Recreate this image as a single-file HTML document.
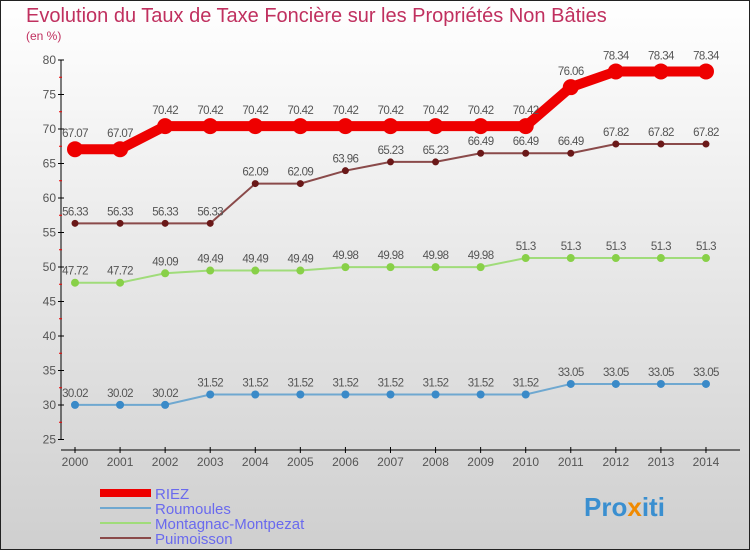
<!DOCTYPE html>
<html><head><meta charset="utf-8"><style>
body{margin:0}
svg{display:block;font-family:"Liberation Sans",sans-serif}
</style></head><body>
<svg width="750" height="550">
<defs><linearGradient id="bg" x1="0" y1="0" x2="0" y2="1"><stop offset="0" stop-color="#ffffff"/><stop offset="1" stop-color="#cfcfcf"/></linearGradient></defs>
<rect x="0.5" y="0.5" width="749" height="549" fill="url(#bg)" stroke="#222"/>
<text x="26" y="22" font-size="20" fill="#c0305f">Evolution du Taux de Taxe Foncière sur les Propriétés Non Bâties</text>
<text x="26" y="40" font-size="12" fill="#c0305f">(en %)</text>
<g id="axes"></g>
<g id="series"></g>
<g id="legend"></g>
<text x="584" y="516" font-size="26" font-weight="bold" fill="#3a8fd0">Pro<tspan fill="#f08a00">x</tspan>iti</text>
</svg>
<script>
const years=[2000,2001,2002,2003,2004,2005,2006,2007,2008,2009,2010,2011,2012,2013,2014];
const riez=[67.07,67.07,70.42,70.42,70.42,70.42,70.42,70.42,70.42,70.42,70.42,76.06,78.34,78.34,78.34];
const roumoules=[30.02,30.02,30.02,31.52,31.52,31.52,31.52,31.52,31.52,31.52,31.52,33.05,33.05,33.05,33.05];
const montagnac=[47.72,47.72,49.09,49.49,49.49,49.49,49.98,49.98,49.98,49.98,51.3,51.3,51.3,51.3,51.3];
const puimoisson=[56.33,56.33,56.33,56.33,62.09,62.09,63.96,65.23,65.23,66.49,66.49,66.49,67.82,67.82,67.82];
const yTicks=[25,30,35,40,45,50,55,60,65,70,75,80];
const NS="http://www.w3.org/2000/svg";
const x=i=>75+i*45.07;
const y=v=>405-(v-30)*6.9;
function mk(tag,attrs,parent){const e=document.createElementNS(NS,tag);for(const k in attrs)e.setAttribute(k,attrs[k]);parent.appendChild(e);return e;}
const ax=document.getElementById('axes');
let l=mk('line',{x1:61,y1:y(80),x2:61,y2:y(25),stroke:'#000'},ax);


l=mk('line',{x1:61,y1:450,x2:740,y2:450,stroke:'#000'},ax);


yTicks.forEach(v=>{
 mk('line',{x1:58,y1:y(v),x2:64,y2:y(v),stroke:'#000'},ax);
 if(v<80)mk('line',{x1:59,y1:y(v+2.5),x2:62,y2:y(v+2.5),stroke:'#e00'},ax);
 const t=mk('text',{x:56,y:y(v)+4,'text-anchor':'end','font-size':12,fill:'#555'},ax);t.textContent=v;
 
 
});
years.forEach((yr,i)=>{
 mk('line',{x1:x(i),y1:447,x2:x(i),y2:453,stroke:'#000'},ax);
 const t=mk('text',{x:x(i),y:466,'text-anchor':'middle','font-size':12,fill:'#555'},ax);t.textContent=yr;
 
 
});
const sg=document.getElementById('series');
const defs=[
 {d:roumoules,c:'#6fa8d0',m:'#3a8ac8',w:2,r:4,n:'roumoules'},
 {d:montagnac,c:'#a0dc7a',m:'#88d048',w:2,r:4,n:'montagnac'},
 {d:puimoisson,c:'#8a4a4a',m:'#6a1818',w:2,r:3.5,n:'puimoisson'},
 {d:riez,c:'#ee0000',m:'#ee0000',w:10,r:8,n:'riez'}
];
defs.forEach(s=>{
 const p=mk('polyline',{points:s.d.map((v,i)=>x(i)+','+y(v)).join(' '),fill:'none',stroke:s.c,'stroke-width':s.w},sg);
 
 
 s.d.forEach((v,i)=>{
  const c=mk('circle',{cx:x(i),cy:y(v),r:s.r,fill:s.m},sg);
  
  
  const t=mk('text',{x:x(i),y:y(v)-(s.n==='riez'?12:8),'text-anchor':'middle','font-size':11.5,fill:'#555','letter-spacing':'-0.6'},sg);
  t.textContent=v;
  
  
 });
});
const lg=document.getElementById('legend');
[['RIEZ','#ee0000',8],['Roumoules','#6fa8d0',2],['Montagnac-Montpezat','#a0dc7a',2],['Puimoisson','#8a4a4a',2]].forEach((e,i)=>{
 const yy=493+i*15;
 const ln=mk('line',{x1:100,y1:yy,x2:151,y2:yy,stroke:e[1],'stroke-width':e[2]},lg);
 
 
 const t=mk('text',{x:155,y:yy+6,'font-size':15,fill:'#6a6aee'},lg);t.textContent=e[0];
 
 
});
</script>
</body></html>
